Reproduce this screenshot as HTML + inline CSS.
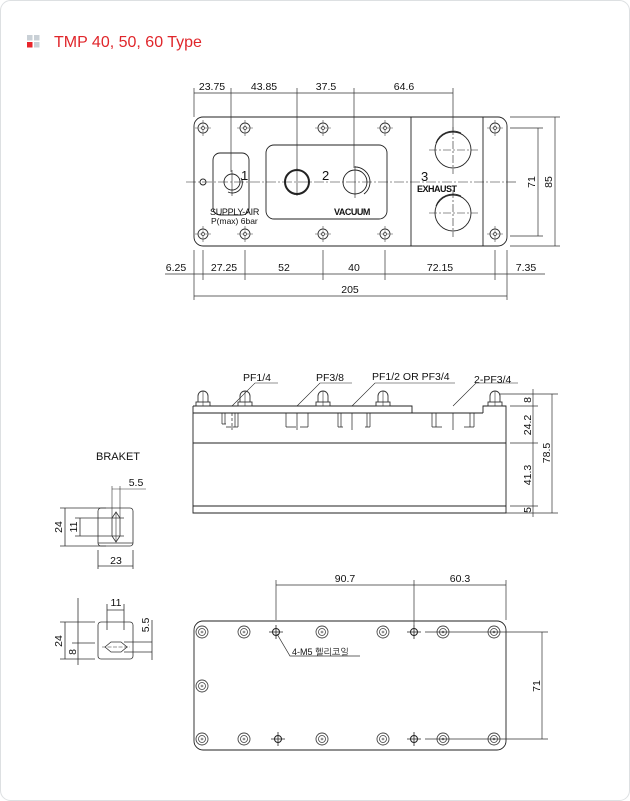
<!DOCTYPE html>
<html><head><meta charset="utf-8"><style>
html,body{margin:0;padding:0;background:#fff}
svg{display:block}
text{font-family:"Liberation Sans","NanumGothic",sans-serif;fill:#111}
</style></head><body>
<svg width="630" height="801" viewBox="0 0 630 801" xmlns="http://www.w3.org/2000/svg">
<defs>
<g id="bolt"><circle r="5" fill="none" stroke="#333" stroke-width="0.9"/><circle r="1.6" fill="none" stroke="#333" stroke-width="0.6"/><path d="M-8 0H8M0 -8V8" stroke="#444" stroke-width="0.6" stroke-dasharray="3 1.5"/></g>
<g id="hole"><circle r="6" fill="none" stroke="#444" stroke-width="0.9"/><circle r="3.5" fill="none" stroke="#444" stroke-width="0.8"/><circle r="1" fill="none" stroke="#444" stroke-width="0.6"/></g>
<g id="m5"><circle r="3.5" fill="none" stroke="#222" stroke-width="1"/><path d="M-7 0H7M0 -7V7" stroke="#222" stroke-width="0.8"/></g>
<g id="head"><path d="M-5 8V2A5 5 0 0 1 5 2V8" fill="none" stroke="#333" stroke-width="0.9"/><rect x="-7" y="8" width="14" height="4" fill="none" stroke="#333" stroke-width="0.9"/><path d="M0 -3V12" stroke="#333" stroke-width="0.6"/></g>
</defs>
<rect x="0.5" y="0.5" width="629" height="800" rx="10" fill="none" stroke="#dde0e2"/>
<rect x="27" y="35" width="5.5" height="5.5" fill="#c9d0d6"/><rect x="34" y="35" width="5.5" height="5.5" fill="#c9d0d6"/>
<rect x="27" y="42" width="5.5" height="5.5" fill="#e8262b"/><rect x="34" y="42" width="5.5" height="5.5" fill="#c9d0d6"/>
<text x="54" y="47" font-size="16" style="fill:#e0262b">TMP 40, 50, 60 Type</text>

<g stroke="#222" stroke-width="0.9" fill="none">
<rect x="194" y="117" width="313" height="129" rx="9"/>
<path d="M411 117V246M483 117V246"/>
<rect x="213" y="153" width="36" height="62" rx="7"/>
<rect x="266" y="145" width="121" height="74" rx="8"/>
<circle cx="232" cy="182" r="8"/><path d="M241 178A10 10 0 0 1 228 192" />
<circle cx="297" cy="182" r="12" stroke-width="2"/>
<circle cx="355" cy="182" r="12"/><path d="M355 167A15 15 0 0 1 364 194" />
<circle cx="453" cy="150" r="18"/><path d="M436 143A18 18 0 0 1 461 133"/>
<circle cx="453" cy="213" r="18"/><path d="M436 206A18 18 0 0 1 461 196"/>
<circle cx="203" cy="182" r="3"/>
<path d="M186 182H518" stroke-width="0.6" stroke-dasharray="10 2 2 2"/>
<path d="M429 150H478M453 127V174M429 213H478M453 190V237" stroke-width="0.6" stroke-dasharray="8 2 2 2"/>
<path d="M232 170V196M297 168V196M355 166V198" stroke-width="0.6"/>
</g>
<g>
<use href="#bolt" x="203" y="128"/><use href="#bolt" x="245" y="128"/><use href="#bolt" x="323" y="128"/><use href="#bolt" x="385" y="128"/><use href="#bolt" x="495" y="128"/>
<use href="#bolt" x="203" y="234"/><use href="#bolt" x="245" y="234"/><use href="#bolt" x="323" y="234"/><use href="#bolt" x="385" y="234"/><use href="#bolt" x="495" y="234"/>
</g>
<text x="241" y="180" font-size="13">1</text><text x="322" y="180" font-size="13">2</text><text x="421" y="181" font-size="13">3</text>
<text x="417" y="192" font-size="9" font-weight="bold" style="letter-spacing:-0.5px">EXHAUST</text>
<text x="334" y="215" font-size="9" font-weight="bold" style="letter-spacing:-0.5px">VACUUM</text>
<text x="210" y="215" font-size="9" style="letter-spacing:-0.3px">SUPPLY-AIR</text>
<text x="211" y="224" font-size="8.5">P(max) 6bar</text>

<g stroke="#333" stroke-width="0.7" fill="none">
<path d="M194 93H453M194 88V117M231 88V172M297 88V170M354 88V168M453 88V130"/>
<path d="M194 274H507M194 250V300M203 250V280M245 250V280M323 250V280M385 250V280M495 250V280M507 250V300M165 274H194M507 274H545"/>
<path d="M194 296H507"/>
<path d="M510 128H543M510 236H543M538 128V236M510 117H560M510 246H560M555 117V246"/>
</g>
<g font-size="10.5" text-anchor="middle">
<text x="212" y="90">23.75</text><text x="264" y="90">43.85</text><text x="326" y="90">37.5</text><text x="404" y="90">64.6</text>
<text x="176" y="271">6.25</text><text x="224" y="271">27.25</text><text x="284" y="271">52</text><text x="354" y="271">40</text><text x="440" y="271">72.15</text><text x="526" y="271">7.35</text>
<text x="350" y="293">205</text>
<text transform="translate(535 182) rotate(-90)">71</text><text transform="translate(552 182) rotate(-90)">85</text>
</g>

<g stroke="#222" stroke-width="0.9" fill="none">
<path d="M193 406H412V413M483 413V406H506V513H193V406M193 413H483M193 443H506M193 506H506"/>
<g stroke-width="0.7">
<path d="M222 413V424M225 413V424M235 413V427M238 413V427M222 424H226M238 427H226"/>
<path d="M286 413V427M308 413V427M286 427H296M300 427H308M297 413V430"/>
<path d="M338 413V427M341 413V427M367 413V427M370 413V427M338 427H343M365 427H370M352 413V430"/>
<path d="M432 413V427M436 413V427M470 413V427M474 413V427M432 427H442M464 427H474M453 413V430"/>
<path d="M232 413V430" stroke-dasharray="3 2"/>
</g>
<path d="M232 406L255 383H278M297 406L320 383H352M352 406L375 383H455M453 406L476 383H518" stroke-width="0.6"/>
</g>
<g><use href="#head" x="203" y="394"/><use href="#head" x="245" y="394"/><use href="#head" x="323" y="394"/><use href="#head" x="383" y="394"/><use href="#head" x="495" y="394"/></g>
<g font-size="10.5"><text x="243" y="381">PF1/4</text><text x="316" y="381">PF3/8</text><text x="372" y="380">PF1/2 OR PF3/4</text><text x="474" y="383">2-PF3/4</text></g>
<g stroke="#333" stroke-width="0.7" fill="none">
<path d="M500 394H558M510 406H538M510 443H538M510 506H538M506 513H558M533 389V517M552 394V513"/>
</g>
<g font-size="10.5" text-anchor="middle">
<text transform="translate(531 400) rotate(-90)">8</text><text transform="translate(531 425) rotate(-90)">24.2</text>
<text transform="translate(531 475) rotate(-90)">41.3</text><text transform="translate(531 510) rotate(-90)">5</text>
<text transform="translate(550 453) rotate(-90)">78.5</text>
</g>

<text x="96" y="460" font-size="11">BRAKET</text>
<g stroke="#333" stroke-width="0.8" fill="none">
<rect x="98" y="508" width="35" height="38" rx="3"/><path d="M98 543H133"/>
<path d="M112 518L116 512L120 518V536L116 542L112 536Z"/>
<path d="M112 486V518M120 486V518M112 489H146M116 512V542" stroke-width="0.6"/>
<path d="M60 508H106M60 546H106M65 508V546M75 518H124M75 536H124M80 518V536"/>
<path d="M98 550V569M133 550V569M98 566H133"/>
<rect x="98" y="622" width="35" height="37" rx="3"/>
<path d="M105 647L111 642H121L127 647L121 652H111Z"/><path d="M102 647H130" stroke-width="0.6" stroke-dasharray="4 1.5"/>
<path d="M107 604V630M124 604V630M107 610H124"/>
<path d="M60 622H95M60 659H95M65 622V659M65 637V659M72 643H95M78 598V665M124 642H152M124 652H152M152 620V660"/>
</g>
<g font-size="10.5" text-anchor="middle">
<text x="136" y="486">5.5</text><text x="116" y="564">23</text><text x="116" y="606">11</text>
<text transform="translate(62 527) rotate(-90)">24</text><text transform="translate(77 527) rotate(-90)">11</text>
<text transform="translate(62 641) rotate(-90)">24</text><text transform="translate(76 652) rotate(-90)">8</text>
<text transform="translate(149 625) rotate(-90)">5.5</text>
</g>

<g stroke="#222" stroke-width="0.9" fill="none">
<rect x="194" y="621" width="312" height="129" rx="9"/>
</g>
<g>
<use href="#hole" x="202" y="632"/><use href="#hole" x="244" y="632"/><use href="#hole" x="322" y="632"/><use href="#hole" x="383" y="632"/><use href="#hole" x="443" y="632"/><use href="#hole" x="494" y="632"/>
<use href="#hole" x="202" y="686"/>
<use href="#hole" x="202" y="739"/><use href="#hole" x="244" y="739"/><use href="#hole" x="322" y="739"/><use href="#hole" x="383" y="739"/><use href="#hole" x="443" y="739"/><use href="#hole" x="494" y="739"/>
<use href="#m5" x="276" y="632"/><use href="#m5" x="414" y="632"/><use href="#m5" x="278" y="739"/><use href="#m5" x="414" y="739"/>
</g>
<g stroke="#333" stroke-width="0.7" fill="none">
<path d="M276 585H506M276 580V620M414 580V625M506 580V620"/>
<path d="M425 632H548M425 739H548M542 632V739"/>
<path d="M277 634L290 656H360"/>
</g>
<g font-size="10.5" text-anchor="middle">
<text x="345" y="582">90.7</text><text x="460" y="582">60.3</text>
<text transform="translate(540 686) rotate(-90)">71</text>
</g>
<text x="292" y="655" font-size="9">4-M5 헬리코일</text>
</svg>
</body></html>
